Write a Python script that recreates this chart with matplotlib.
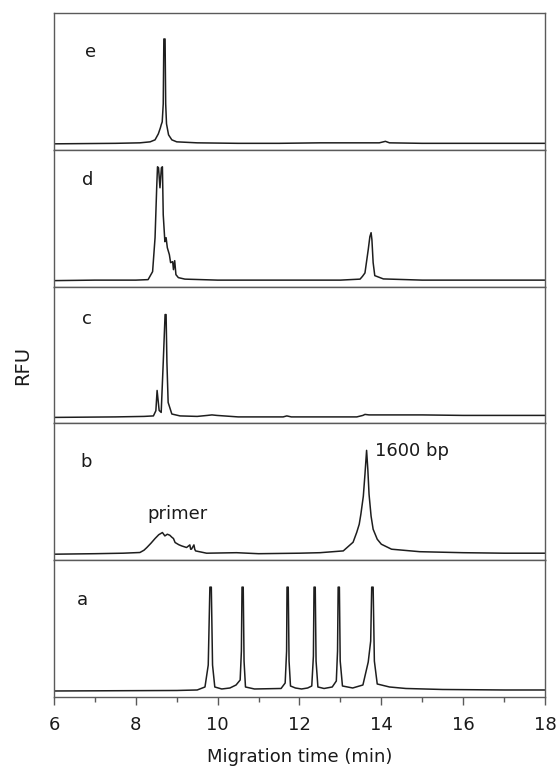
import numpy as np
import matplotlib
matplotlib.use("Agg")
import matplotlib.pyplot as plt
from matplotlib.ticker import MultipleLocator

# traces: time (min) and signal (arb. RFU, 0 = baseline)
t_e = [6.0, 7.5, 8.1, 8.35, 8.47, 8.55, 8.60, 8.62, 8.645, 8.67, 8.685, 8.715, 8.73,
       8.75, 8.80, 8.88, 9.0, 9.5, 10.5, 11.5, 12.5, 13.5, 13.95, 14.05, 14.1, 14.2,
       15.0, 16.0, 17.0, 18.0]
y_e = [0, 0.5, 1, 2, 4, 10, 16, 19, 22, 40, 105, 105, 40,
       20, 9, 4, 2, 1, 0.5, 0.5, 1, 1, 1, 2, 2.5, 1,
       0.5, 0.5, 0.5, 0.5]

t_d = [6.0, 7.0, 8.0, 8.30, 8.41, 8.47, 8.51, 8.53, 8.555, 8.59, 8.625, 8.65, 8.67,
       8.71, 8.74, 8.77, 8.82, 8.85, 8.90, 8.92, 8.95, 8.98, 9.04, 9.20, 10.0, 11.0,
       12.0, 13.0, 13.48, 13.54, 13.60, 13.68, 13.72, 13.75, 13.77, 13.80, 13.84,
       14.05, 15.0, 16.0, 17.0, 18.0]
y_d = [0, 0.5, 0.5, 1, 9, 43, 93, 114, 113, 93, 113, 114, 66,
       39, 43, 33, 26, 18, 19, 11, 20, 6, 3, 1.5, 0.5, 0.5,
       0.5, 0.5, 1.5, 4.3, 7.7, 31, 44, 48, 41, 18, 5,
       1.7, 0.5, 0.5, 0.5, 0.5]

t_c = [6.0, 7.5, 8.2, 8.43, 8.49, 8.52, 8.57, 8.62, 8.67, 8.715, 8.74, 8.76, 8.79,
       8.88, 9.08, 9.5, 9.75, 9.86, 9.98, 10.5, 11.6, 11.69, 11.8, 12.5, 13.4, 13.55,
       13.6, 13.7, 14.0, 15.0, 16.0, 17.0, 18.0]
y_c = [0, 0.5, 1, 1.5, 6.7, 27, 7, 5, 55, 103, 103, 55, 15,
       3.4, 1.5, 1, 2, 2.5, 2, 0.5, 0.5, 1.5, 0.5, 0.5, 0.5, 2,
       3, 2.5, 2.5, 2.5, 2, 2, 2]

t_b = [6.0, 7.0, 7.69, 8.10, 8.20, 8.27, 8.37, 8.47, 8.56, 8.65, 8.71, 8.77, 8.83,
       8.88, 8.92, 8.96, 9.05, 9.12, 9.24, 9.32, 9.34, 9.36, 9.42, 9.44, 9.46, 9.73,
       10.46, 11.0, 12.0, 12.5, 13.07, 13.31, 13.40, 13.46, 13.50, 13.56, 13.60, 13.64,
       13.67, 13.70, 13.75, 13.80, 13.90, 14.0, 14.25, 14.94, 16.0, 17.0, 18.0]
y_b = [0, 0.5, 1, 1.7, 4, 6.7, 11, 15.7, 19.5, 21.7, 18.3, 20, 19,
       17, 15.7, 11.7, 9.5, 8.3, 6.7, 9.3, 5, 5, 9.3, 5, 3.3, 1,
       1.5, 0.5, 1, 1.5, 3.3, 12, 22, 30, 40, 58, 80, 104,
       85, 60, 38, 25, 15, 10, 5, 2.5, 1.5, 1, 1]

t_a = [6.0, 9.0, 9.5, 9.69, 9.77, 9.81, 9.845, 9.875, 9.93, 10.1,
       10.30, 10.45, 10.55, 10.58, 10.595, 10.625, 10.645, 10.68, 10.9,
       11.55, 11.65, 11.685, 11.695, 11.725, 11.745, 11.78, 11.9, 12.05, 12.2,
       12.30, 12.34, 12.355, 12.385, 12.405, 12.45, 12.6,
       12.80, 12.90, 12.93, 12.945, 12.975, 12.995, 13.05, 13.3,
       13.55, 13.68, 13.74, 13.765, 13.80, 13.83, 13.90, 14.2, 14.6, 15.5, 17.0, 18.0]
y_a = [0, 0.5, 1, 4, 26, 104, 104, 26, 4, 2,
       3, 6, 11, 40, 104, 104, 30, 4, 2,
       2.5, 8, 40, 104, 104, 30, 5, 3, 2, 3,
       5, 35, 104, 104, 30, 4, 2.5,
       4, 10, 40, 104, 104, 30, 5, 3,
       6, 29, 50, 104, 104, 30, 7, 4, 2.5, 1.5, 1, 1]

panel_names = ["e", "d", "c", "b", "a"]
panel_t = [t_e, t_d, t_c, t_b, t_a]
panel_y = [y_e, y_d, y_c, y_b, y_a]
# where the letter sits inside each panel (axes fraction)
label_pos = [(0.075, 0.715), (0.069, 0.78), (0.067, 0.766), (0.065, 0.72), (0.057, 0.71)]

ink = "#1e1e1e"
frame = "#5a5a5a"
txt = "#1a1a1a"

fig, axes = plt.subplots(5, 1, sharex=True, figsize=(5.56, 7.67), dpi=100)
fig.subplots_adjust(left=0.0971, right=0.9802, top=0.983, bottom=0.0913, hspace=0)

for ax, name, t, y, pos in zip(axes, panel_names, panel_t, panel_y, label_pos):
    ax.plot(t, y, color=ink, lw=1.1)
    ax.set_ylim(-6, 131)
    ax.set_yticks([])
    for s in ax.spines.values():
        s.set_color(frame)
        s.set_linewidth(1.0)
    ax.text(pos[0], pos[1], name, transform=ax.transAxes, fontsize=13,
            ha="center", va="center", color=txt)
    ax.tick_params(axis="x", which="both", bottom=False, labelbottom=False)

axes[3].text(13.84, 103, "1600 bp", fontsize=13, ha="left", va="center", color=txt)
axes[3].text(9.03, 40, "primer", fontsize=13, ha="center", va="center", color=txt)

ax = axes[-1]
ax.set_xlim(6, 18)
ax.xaxis.set_major_locator(MultipleLocator(2))
ax.xaxis.set_minor_locator(MultipleLocator(1))
ax.tick_params(axis="x", which="both", bottom=True, labelbottom=True, direction="out",
               color=frame, labelsize=13, labelcolor=txt)
ax.tick_params(axis="x", which="major", length=6, width=1.0, pad=8)
ax.tick_params(axis="x", which="minor", length=3.5, width=1.0)
ax.set_xlabel("Migration time (min)", fontsize=13, color=txt, labelpad=9.5)

fig.text(0.04, 0.524, "RFU", rotation=90, fontsize=14, ha="center", va="center", color=txt)

fig.savefig("out.png", dpi=100)
